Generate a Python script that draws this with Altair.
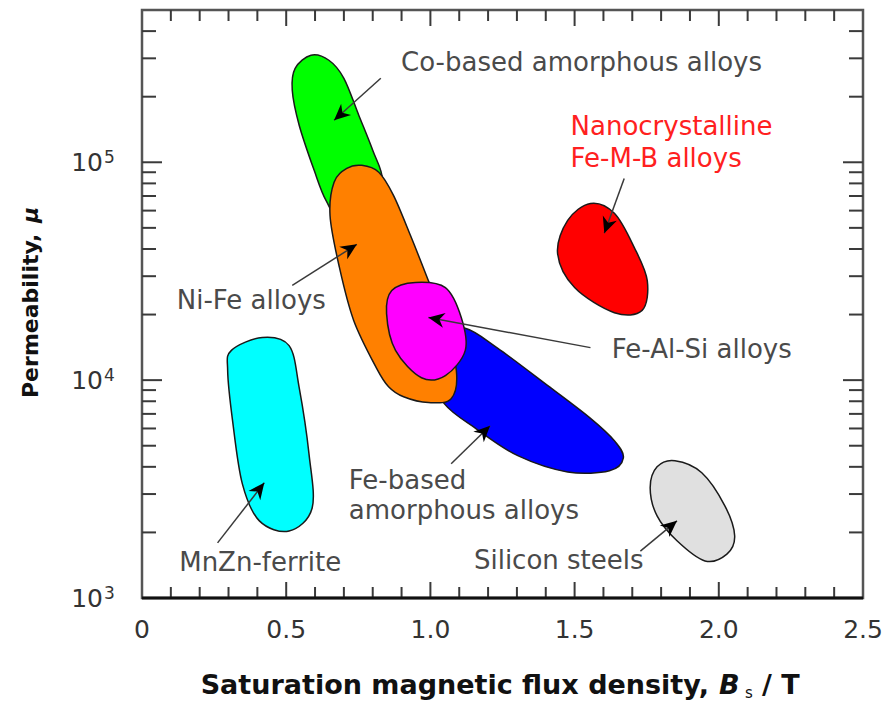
import math
import altair as alt
import pandas as pd

# ---------------- data ----------------
W, H = 721, 588
X_DOMAIN = [0, 2.5]
MU_DOMAIN = [1000, 500000]

materials = ["Co-based amorphous alloys", "Fe-based amorphous alloys", "Ni-Fe alloys",
             "Fe-Al-Si alloys", "MnZn-ferrite", "Nanocrystalline Fe-M-B alloys", "Silicon steels"]

co_x = [0.586, 0.648, 0.700, 0.752, 0.800, 0.834, 0.803, 0.700, 0.638, 0.597, 0.545, 0.521, 0.531]
co_mu = [3.10e5, 2.94e5, 2.43e5, 1.64e5, 1.135e5, 8.26e4, 5.70e4, 5.13e4, 6.68e4, 9.18e4, 1.48e5, 2.14e5, 2.70e5]

feam_x = [1.121, 1.234, 1.407, 1.552, 1.638, 1.669, 1.621, 1.476, 1.303, 1.159, 1.048, 1.000, 1.045]
feam_mu = [1.73e4, 1.40e4, 9.44e3, 6.73e3, 5.27e3, 4.40e3, 3.84e3, 3.79e3, 4.50e3, 5.98e3, 7.80e3, 1.107e4, 1.60e4]

nife_x = [0.762, 0.821, 0.872, 0.931, 0.986, 1.045, 1.090, 1.072, 0.993, 0.907, 0.855, 0.814, 0.734, 0.683, 0.652, 0.666, 0.710]
nife_mu = [9.68e4, 9.0e4, 7.05e4, 4.61e4, 3.02e4, 1.88e4, 1.107e4, 8.22e3, 7.89e3, 8.39e3, 9.33e3, 1.13e4, 1.88e4, 3.36e4, 5.70e4, 8.09e4, 9.37e4]

feal_x = [0.866, 0.948, 1.052, 1.107, 1.121, 1.052, 0.969, 0.879, 0.848]
feal_mu = [2.58e4, 2.81e4, 2.66e4, 1.94e4, 1.37e4, 1.05e4, 1.026e4, 1.37e4, 2.02e4]

mnzn_x = [0.310, 0.417, 0.510, 0.545, 0.579, 0.590, 0.510, 0.407, 0.348, 0.314, 0.297]
mnzn_mu = [1.37e4, 1.57e4, 1.44e4, 9.25e3, 4.59e3, 2.59e3, 2.03e3, 2.26e3, 3.34e3, 6.52e3, 1.107e4]

nano_x = [1.555, 1.476, 1.441, 1.500, 1.638, 1.734, 1.752, 1.707, 1.638]
nano_mu = [6.47e4, 5.41e4, 3.82e4, 2.66e4, 2.04e4, 2.09e4, 2.86e4, 4.06e4, 5.83e4]

si_x = [1.848, 1.941, 2.021, 2.055, 2.028, 1.952, 1.855, 1.786, 1.762, 1.786]
si_mu = [4.27e3, 3.76e3, 2.65e3, 1.93e3, 1.59e3, 1.48e3, 1.83e3, 2.38e3, 3.21e3, 4.0e3]

# arrows: start (at label) -> tip (in region)
arrow_x0 = [0.828, 1.072, 0.521, 1.555, 0.262, 1.672, 1.728]
arrow_mu0 = [2.43e5, 4.13e3, 2.72e4, 1.41e4, 1.79e3, 8.43e4, 1.64e3]
arrow_x1 = [0.666, 1.207, 0.745, 0.993, 0.424, 1.603, 1.855]
arrow_mu1 = [1.56e5, 6.18e3, 4.20e4, 1.94e4, 3.38e3, 4.72e4, 2.26e3]

# labels
label_text = ["Co-based amorphous alloys", "Fe-based", "amorphous alloys", "Ni-Fe alloys",
              "Fe-Al-Si alloys", "MnZn-ferrite", "Nanocrystalline", "Fe-M-B alloys", "Silicon steels"]
label_x = [1.524, 0.717, 0.717, 0.379, 1.941, 0.410, 1.486, 1.486, 1.445]
label_mu = [2.85e5, 3.45e3, 2.51e3, 2.32e4, 1.37e4, 1.45e3, 1.45e5, 1.04e5, 1.48e3]
label_align = ["center", "left", "left", "center", "center", "center", "left", "left", "center"]
label_color = ["#4a4a4a"] * 6 + ["#ff2020", "#ff2020"] + ["#4a4a4a"]

x_tick_values = [0, 0.5, 1.0, 1.5, 2.0, 2.5]
x_tick_text = ["0", "0.5", "1.0", "1.5", "2.0", "2.5"]
mu_tick_values = [1000, 10000, 100000]
mu_tick_base = ["10", "10", "10"]
mu_tick_exp = ["3", "4", "5"]

# ---------------- styling ----------------
FONT = "DejaVu Sans"
TICK_C = "#3a3a3a"
xscale = alt.Scale(domain=X_DOMAIN, nice=False, zero=False)
yscale = alt.Scale(type="log", domain=MU_DOMAIN, nice=False)


def X(field):
    return alt.X(field, scale=xscale, axis=None)


def Y(field):
    return alt.Y(field, scale=yscale, axis=None)


def blob(xs, mus, fill):
    df = pd.DataFrame({"x": xs, "mu": mus, "i": list(range(len(xs)))})
    return alt.Chart(df).mark_line(interpolate="cardinal-closed", fill=fill, stroke="#1a1a1a",
                                   strokeWidth=1.5).encode(
        x=X("x:Q"), y=Y("mu:Q"), order=alt.Order("i:Q"))


def px(x):
    return (x - X_DOMAIN[0]) / (X_DOMAIN[1] - X_DOMAIN[0]) * W


def py(mu):
    l0, l1 = math.log10(MU_DOMAIN[0]), math.log10(MU_DOMAIN[1])
    return H - (math.log10(mu) - l0) / (l1 - l0) * H


angles = []
for a, b, c, d in zip(arrow_x0, arrow_mu0, arrow_x1, arrow_mu1):
    dx = px(c) - px(a)
    dy = py(d) - py(b)
    angles.append((math.degrees(math.atan2(dx, -dy)) + 360) % 360)

arrows = pd.DataFrame({"x0": arrow_x0, "mu0": arrow_mu0, "x1": arrow_x1, "mu1": arrow_mu1, "ang": angles})

arrow_lines = alt.Chart(arrows).mark_rule(color="#3a3a3a", strokeWidth=1.5).encode(
    x=X("x0:Q"), y=Y("mu0:Q"), x2="x1:Q", y2="mu1:Q")

ARROW = "M0,0 L0.6,1.3 L0,0.9 L-0.6,1.3 Z"
arrow_heads = alt.Chart(arrows).mark_point(shape=ARROW, filled=True, color="black", size=620,
                                           opacity=1).encode(
    x=X("x1:Q"), y=Y("mu1:Q"), angle=alt.Angle("ang:Q", scale=None))

labels = pd.DataFrame({"t": label_text, "x": label_x, "mu": label_mu, "al": label_align, "c": label_color})
text_layers = []
for al in ["left", "center"]:
    text_layers.append(
        alt.Chart(labels).transform_filter(alt.datum.al == al).mark_text(
            align=al, baseline="middle", font=FONT, fontSize=26).encode(
            x=X("x:Q"), y=Y("mu:Q"), text="t:N", color=alt.Color("c:N", scale=None)))

# tick labels (drawn through the scales)
xlab = alt.Chart(pd.DataFrame({"v": x_tick_values, "t": x_tick_text})).mark_text(
    align="center", baseline="alphabetic", font=FONT, fontSize=25, color="#333333").encode(
    x=X("v:Q"), y=alt.value(H + 40), text="t:N")
ydf = pd.DataFrame({"v": mu_tick_values, "b": mu_tick_base, "e": mu_tick_exp})
ylab_base = alt.Chart(ydf).mark_text(
    align="right", baseline="alphabetic", font=FONT, fontSize=25, color="#333333", dy=9).encode(
    x=alt.value(-39), y=Y("v:Q"), text="b:N")
ylab_exp = alt.Chart(ydf).mark_text(
    align="left", baseline="alphabetic", font=FONT, fontSize=17, color="#333333", dy=1).encode(
    x=alt.value(-38), y=Y("v:Q"), text="e:N")

x_major = [0.5, 1.0, 1.5, 2.0]
x_minor = [round(0.1 * i, 1) for i in range(1, 25) if i % 5 != 0]
y_major = [1e4, 1e5]
y_minor = [m * 10 ** e for e in (3, 4, 5) for m in range(2, 10) if m * 10 ** e < MU_DOMAIN[1]]


def tick_rules(vals, axis, side, length):
    df = pd.DataFrame({"v": vals})
    base = alt.Chart(df).mark_rule(color=TICK_C, strokeWidth=2)
    if axis == "x":
        enc = {"x": X("v:Q")}
        if side == "bottom":
            enc.update(y=alt.value(H), y2=alt.value(H - length))
        else:
            enc.update(y=alt.value(0), y2=alt.value(length))
    else:
        enc = {"y": Y("v:Q")}
        if side == "left":
            enc.update(x=alt.value(0), x2=alt.value(length))
        else:
            enc.update(x=alt.value(W), x2=alt.value(W - length))
    return base.encode(**enc)


ticks = [
    tick_rules(x_major, "x", "bottom", 16), tick_rules(x_minor, "x", "bottom", 11),
    tick_rules(x_major, "x", "top", 16), tick_rules(x_minor, "x", "top", 11),
    tick_rules(y_major, "y", "left", 20), tick_rules(y_minor, "y", "left", 14),
    tick_rules(y_major, "y", "right", 20), tick_rules(y_minor, "y", "right", 14),
]

one = pd.DataFrame({"a": [0]})
bottom_line = alt.Chart(one).mark_rule(color="#111111", strokeWidth=3).encode(
    x=alt.value(0), x2=alt.value(W), y=alt.value(H))


def title_piece(text, x, y, size, align="left", style="normal", angle=0, weight="bold"):
    return alt.Chart(one).mark_text(text=text, align=align, baseline="alphabetic", font=FONT,
                                    fontSize=size, fontWeight=weight, fontStyle=style,
                                    angle=angle, color="#111111").encode(
        x=alt.value(x), y=alt.value(y))


titles = [
    title_piece("Saturation magnetic flux density,", 567, 684, 27, align="right"),
    title_piece("B", 577, 684, 27, style="italic"),
    title_piece("s", 603, 688, 15, weight="normal"),
    title_piece("/ T", 620, 684, 27),
    title_piece("Permeability,", -104, 388, 22, angle=270),
    title_piece("μ", -104, 213, 22, style="italic", angle=270),
]

layers = [
    blob(co_x, co_mu, "#00ff00"),
    blob(feam_x, feam_mu, "#0000ff"),
    blob(nife_x, nife_mu, "#ff8000"),
    blob(feal_x, feal_mu, "#ff00ff"),
    blob(mnzn_x, mnzn_mu, "#00ffff"),
    blob(nano_x, nano_mu, "#ff0000"),
    blob(si_x, si_mu, "#e0e0e0"),
    arrow_lines, arrow_heads,
] + text_layers + [xlab, ylab_base, ylab_exp] + ticks + [bottom_line] + titles

chart = alt.layer(*layers).properties(
    width=W, height=H,
    autosize=alt.AutoSizeParams(type="none"),
    padding={"left": 134, "top": 2, "right": 22, "bottom": 105},
    background="white",
).configure_view(stroke="#555555", strokeWidth=2.5)

chart.save("out.html", embed_options={"renderer": "svg", "actions": False})
